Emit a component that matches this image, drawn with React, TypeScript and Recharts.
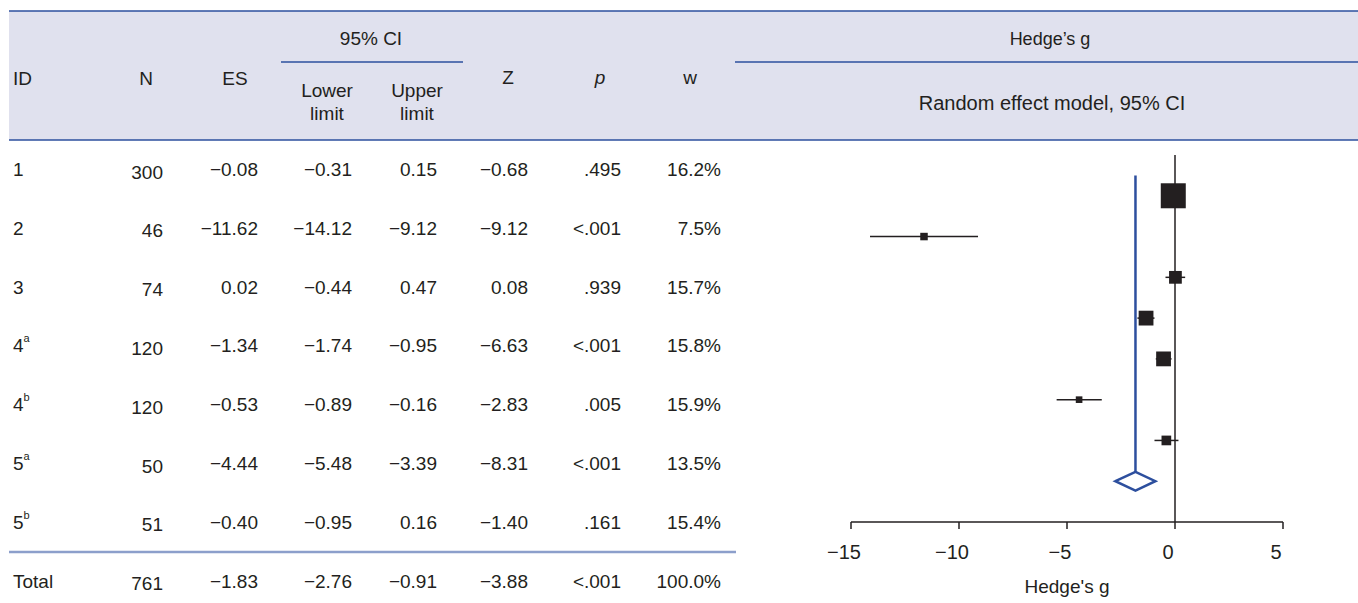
import {
  ComposedChart,
  ErrorBar,
  Line,
  ReferenceLine,
  Scatter,
  XAxis,
  YAxis,
  ZAxis,
} from "recharts";

// study rows
const studyIds = ["1", "2", "3", "4", "4", "5", "5"];
const studyMarks = ["", "", "", "a", "b", "a", "b"];
const sampleSizes = [300, 46, 74, 120, 120, 50, 51];
const effectSizes = [-0.08, -11.62, 0.02, -1.34, -0.53, -4.44, -0.4];
const lowerLimits = [-0.31, -14.12, -0.44, -1.74, -0.89, -5.48, -0.95];
const upperLimits = [0.15, -9.12, 0.47, -0.95, -0.16, -3.39, 0.16];
const zValues = [-0.68, -9.12, 0.08, -6.63, -2.83, -8.31, -1.4];
const pValues = [".495", "<.001", ".939", "<.001", ".005", "<.001", ".161"];
const weights = [16.2, 7.5, 15.7, 15.8, 15.9, 13.5, 15.4];
// relative box area drawn in the forest plot (largest = 100)
const boxWeights = [100, 9, 26, 35, 35, 7, 15];

// pooled (random effect) row
const totalN = 761;
const totalES = -1.83;
const totalLower = -2.76;
const totalUpper = -0.91;
const totalZ = -3.88;
const totalP = "<.001";
const totalWeight = 100.0;

const xTicks = [-15, -10, -5, 0, 5];

const INK = "#231f20";
const BLUE = "#2d4f9e";
const HEADER_BG = "#e0e1ee";
const FONT = "'Liberation Sans', Arial, sans-serif";

const minus = (v: number, digits: number) =>
  (v < 0 ? "\u2212" : "") + Math.abs(v).toFixed(digits);

const studyRows = effectSizes.map((es, i) => ({
  x: es,
  y: i + 1,
  z: boxWeights[i],
  ci: [es - lowerLimits[i], upperLimits[i] - es],
}));

const summaryRow = effectSizes.length + 1;
const halfH = 0.23;
const diamond = [
  { x: totalLower, y: summaryRow },
  { x: totalES, y: summaryRow - halfH },
  { x: totalUpper, y: summaryRow },
  { x: totalES, y: summaryRow + halfH },
  { x: totalLower, y: summaryRow },
  { x: totalES, y: summaryRow - halfH },
];

const Box = (props: any) => {
  const { cx, cy, size } = props;
  const s = Math.sqrt(size || 25);
  return <rect x={cx - s / 2} y={cy - s / 2} width={s} height={s} fill={INK} />;
};

// column right edges
const colRight = { n: 163, es: 258, lo: 352, hi: 437, z: 528, p: 621, w: 721 };
const rowBase = (i: number) => 176 + i * 58.8;

function TableRow({ i, id, mark, n, es, lo, hi, z, p, w }: any) {
  const y = rowBase(i);
  return (
    <g>
      <text x={13} y={y}>
        {id}
        {mark && (
          <tspan fontSize={11} dy={-10}>
            {mark}
          </tspan>
        )}
      </text>
      <text x={colRight.n} y={y + 2.5} textAnchor="end">
        {n}
      </text>
      <text x={colRight.es} y={y} textAnchor="end">
        {minus(es, 2)}
      </text>
      <text x={colRight.lo} y={y} textAnchor="end">
        {minus(lo, 2)}
      </text>
      <text x={colRight.hi} y={y} textAnchor="end">
        {minus(hi, 2)}
      </text>
      <text x={colRight.z} y={y} textAnchor="end">
        {minus(z, 2)}
      </text>
      <text x={colRight.p} y={y} textAnchor="end">
        {p}
      </text>
      <text x={colRight.w} y={y} textAnchor="end">
        {w.toFixed(1)}%
      </text>
    </g>
  );
}

function Table() {
  return (
    <svg
      width={1358}
      height={603}
      style={{ position: "absolute", left: 0, top: 0, fontFamily: FONT }}
      fontSize={19}
      fill={INK}
    >
      <rect x={9} y={11} width={1349} height={129} fill={HEADER_BG} />
      <line x1={9} x2={1358} y1={11} y2={11} stroke={BLUE} strokeWidth={1.5} />
      <line x1={281} x2={463} y1={62} y2={62} stroke={BLUE} strokeWidth={1.5} />
      <line x1={735} x2={1358} y1={62} y2={62} stroke={BLUE} strokeWidth={1.5} />
      <line x1={9} x2={1358} y1={140} y2={140} stroke={BLUE} strokeWidth={1.5} />
      <line x1={9} x2={736} y1={552} y2={552} stroke="#8c9fcb" strokeWidth={2.5} />

      <text x={371} y={45} textAnchor="middle">95% CI</text>
      <text x={13} y={85}>ID</text>
      <text x={146} y={85} textAnchor="middle">N</text>
      <text x={235} y={85} textAnchor="middle">ES</text>
      <text x={327} y={97} textAnchor="middle">Lower</text>
      <text x={327} y={120} textAnchor="middle">limit</text>
      <text x={417} y={97} textAnchor="middle">Upper</text>
      <text x={417} y={120} textAnchor="middle">limit</text>
      <text x={508} y={84} textAnchor="middle">Z</text>
      <text x={600} y={84} textAnchor="middle" fontStyle="italic">p</text>
      <text x={690} y={84} textAnchor="middle">w</text>
      <text x={1050} y={45} textAnchor="middle" fontSize={18}>Hedge’s g</text>
      <text x={1052} y={110} textAnchor="middle" fontSize={20}>
        Random effect model, 95% CI
      </text>

      {studyIds.map((id, i) => (
        <TableRow
          key={i}
          i={i}
          id={id}
          mark={studyMarks[i]}
          n={sampleSizes[i]}
          es={effectSizes[i]}
          lo={lowerLimits[i]}
          hi={upperLimits[i]}
          z={zValues[i]}
          p={pValues[i]}
          w={weights[i]}
        />
      ))}
      <TableRow
        i={studyIds.length}
        id="Total"
        mark=""
        n={totalN}
        es={totalES}
        lo={totalLower}
        hi={totalUpper}
        z={totalZ}
        p={totalP}
        w={totalWeight}
      />
    </svg>
  );
}

export default function App() {
  return (
    <div
      style={{
        position: "absolute",
        left: 0,
        top: 0,
        width: 1358,
        height: 603,
        background: "#fff",
        fontFamily: FONT,
      }}
    >
      <Table />
      <div style={{ position: "absolute", left: 790, top: 140 }}>
        <ComposedChart
          width={568}
          height={463}
          margin={{ top: 15, right: 75, bottom: 8, left: 61 }}
        >
          <XAxis
            type="number"
            dataKey="x"
            domain={[-15, 5]}
            ticks={xTicks}
            height={73}
            tickSize={7}
            tickMargin={16}
            axisLine={{ stroke: INK, strokeWidth: 1.5 }}
            tickLine={{ stroke: INK, strokeWidth: 1.5 }}
            tick={{ fill: INK, fontSize: 20, fontFamily: FONT, dx: -7 }}
            tickFormatter={(v: number) => minus(v, 0)}
            label={{
              value: "Hedge's g",
              position: "insideBottom",
              offset: 2,
              fill: INK,
              fontSize: 19,
              fontFamily: FONT,
            }}
          />
          <YAxis
            type="number"
            dataKey="y"
            domain={[0, summaryRow + 1]}
            reversed
            hide
            width={0}
          />
          <ZAxis type="number" dataKey="z" domain={[0, 100]} range={[0, 625]} />
          <ReferenceLine x={0} stroke={INK} strokeWidth={1.5} />
          <ReferenceLine
            segment={[
              { x: totalES, y: 0.5 },
              { x: totalES, y: summaryRow - halfH },
            ]}
            stroke={BLUE}
            strokeWidth={2.5}
          />
          <Scatter data={studyRows} shape={<Box />} isAnimationActive={false}>
            <ErrorBar
              dataKey="ci"
              direction="x"
              width={0}
              stroke={INK}
              strokeWidth={1.5}
            />
          </Scatter>
          <Line
            data={diamond}
            dataKey="y"
            type="linear"
            stroke={BLUE}
            strokeWidth={2.5}
            strokeLinejoin="miter"
            dot={false}
            activeDot={false}
            isAnimationActive={false}
          />
        </ComposedChart>
      </div>
    </div>
  );
}
